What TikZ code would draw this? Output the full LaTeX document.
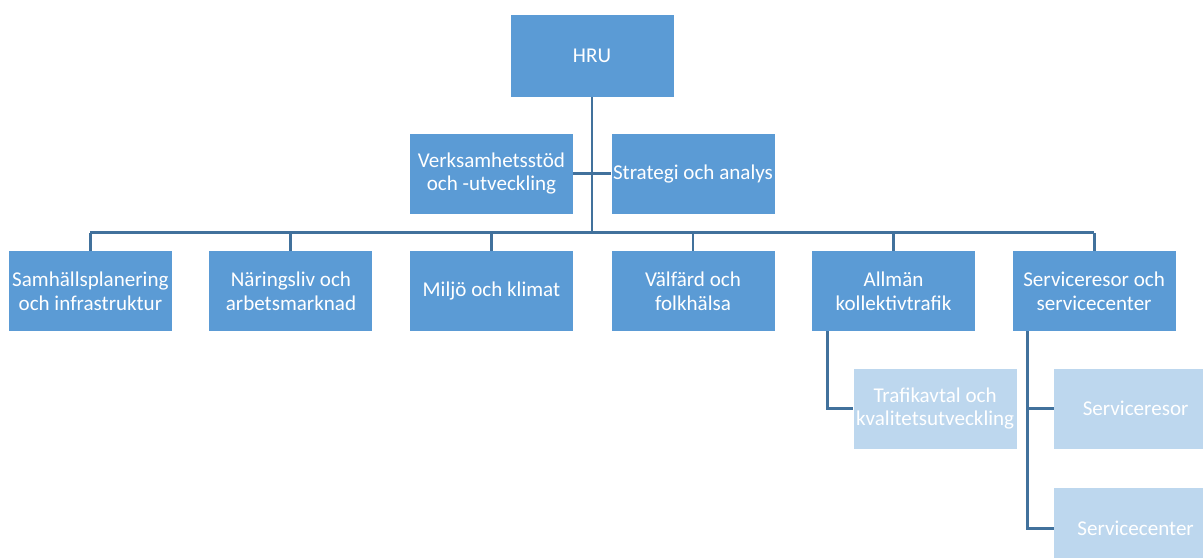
\documentclass[tikz,border=0pt]{standalone}
\usepackage{fontspec}
\setmainfont{Carlito}
\usetikzlibrary{positioning}
\usetikzlibrary{calc}

\definecolor{boxblue}{HTML}{5B9BD5}
\definecolor{boxlight}{HTML}{BDD7EE}
\definecolor{linkblue}{HTML}{41719C}

\begin{document}
\begin{tikzpicture}[
    unit/.style={rectangle, fill=boxblue, text=white, minimum width=122.25pt, minimum height=60pt, inner sep=0pt, align=center, font=\fontsize{15.8}{17.6}\selectfont},
    subunit/.style={unit, fill=boxlight},
    link/.style={draw=linkblue, line width=2.2pt},
]
    \useasboundingbox (0,0) rectangle (902.25pt,-417.75pt);

    \node[unit, minimum height=61.5pt] (hru) at (444pt,-42pt) {HRU};

    \node[unit] (verks) [below=27pt of hru, xshift=-75.4pt] {Verksamhetsstöd\\och -utveckling};
    \node[unit] (strategi) [right=28.5pt of verks] {Strategi och analys};

    \node[unit] (miljo) [below=27.75pt of verks] {Miljö och klimat};
    \node[unit] (naring) [left=27.75pt of miljo] {Näringsliv och\\arbetsmarknad};
    \node[unit] (samhalle) [left=27.75pt of naring] {Samhällsplanering\\och infrastruktur};
    \node[unit] (valfard) [right=28.5pt of miljo] {Välfärd och\\folkhälsa};
    \node[unit] (allman) [right=27.75pt of valfard] {Allmän\\kollektivtrafik};
    \node[unit] (service) [right=27.75pt of allman] {Serviceresor och\\servicecenter};

    \node[subunit] (trafik) [below right=27.75pt and -91.5pt of allman] {Trafikavtal och\\kvalitetsutveckling};
    \node[subunit] (resor) [below right=27.75pt and -91.5pt of service] {Serviceresor};
    \node[subunit] (center) [below=29.25pt of resor] {Servicecenter};

    \coordinate (bus) at ($(miljo.north)+(0,13.5pt)$);

    \draw[link] (hru.south) -- (hru.south |- bus);
    \draw[link] (verks.east) -- (strategi.west);
    \draw[link] (samhalle.north |- bus) -- (service.north |- bus);
    \foreach \n in {samhalle, naring, miljo, valfard, allman, service}
        \draw[link] (\n.north) -- (\n.north |- bus);

    \draw[link] ($(allman.south west)+(12pt,0)$) |- (trafik.west);
    \draw[link] ($(service.south west)+(11.25pt,0)$) |- (resor.west);
    \draw[link] ($(service.south west)+(11.25pt,0)$) |- (center.west);
\end{tikzpicture}
\end{document}
